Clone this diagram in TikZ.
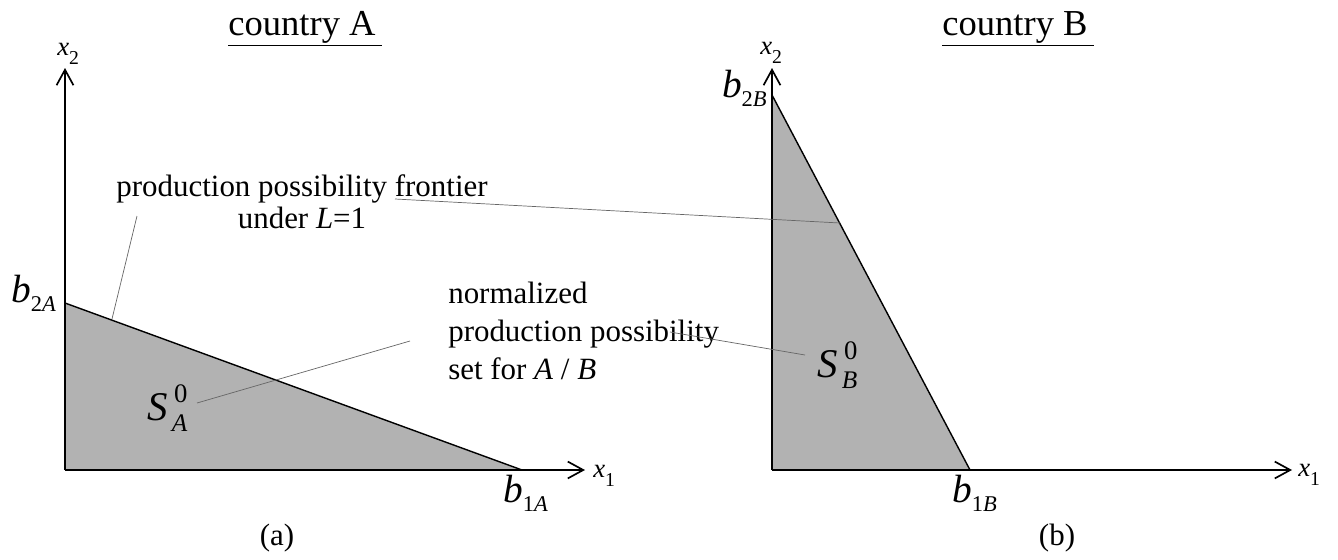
\documentclass[tikz,border=0pt]{standalone}
\usepackage{fontspec}
\setmainfont{Liberation Serif}
\usepackage{tikz}
\usetikzlibrary{arrows.meta}

\newcommand{\idx}[2][14]{\raisebox{-6.5pt}{\fontsize{#1}{#1}\selectfont\upshape #2}}
\newcommand{\setidx}[1]{\kern3pt\makebox[0pt][l]{\kern1.5pt\raisebox{12.5pt}{\fontsize{19}{19}\selectfont 0}}\raisebox{-8.5pt}{\fontsize{18}{18}\selectfont\itshape #1}}

\tikzset{
  axisline/.style={line width=1.2pt, -{Straight Barb[length=11pt,width=12pt]}},
  ppf/.style={line width=1pt},
  ppset/.style={fill=black!30},
  leader/.style={black!60, line width=0.5pt},
  ctitle/.style={font=\fontsize{26}{30}\selectfont, inner sep=0pt},
  ntext/.style={font=\fontsize{22}{23}\selectfont, inner sep=0pt},
  axlab/.style={font=\fontsize{19}{19}\selectfont\itshape, inner sep=0pt},
  blab/.style={font=\fontsize{28}{28}\selectfont, inner sep=0pt},
  setlab/.style={font=\fontsize{29}{29}\selectfont, inner sep=0pt},
  subcap/.style={font=\fontsize{22}{22}\selectfont, inner sep=0pt},
}

\begin{document}
\begin{tikzpicture}[x=0.025cm, y=-0.025cm]
\useasboundingbox (0,0) rectangle (1338,559);

%% Sets S^0 and axes: panel (a), then panel (b)
\foreach \p/\ox/\bx/\by/\ex in {A/65/522/303/585, B/772/970/95/1292}{
  \coordinate (o\p) at (\ox,470);
  \coordinate (b1\p) at (\bx,470);
  \coordinate (b2\p) at (\ox,\by);
  \fill[ppset] (o\p) -- (b2\p) -- (b1\p) -- cycle;
  \draw[ppf] (b2\p) -- (b1\p);
  \draw[axisline] (o\p) -- (\ox,68);
  \draw[axisline] (o\p) -- (\ex,470);
}

%% Titles
\node[ctitle, anchor=base] (titleA) at (305,35) {\underline{country A\,}};
\node[ctitle, anchor=base] (titleB) at (1018,35) {\underline{country B\,}};

%% Axis labels
\node[axlab, anchor=base west] (x2A) at (57,55) {x\idx{2}};
\node[axlab, anchor=base west] (x1A) at (593,477) {x\idx{1}};
\node[axlab, anchor=base west] (x2B) at (760,54) {x\idx{2}};
\node[axlab, anchor=base west] (x1B) at (1298,476) {x\idx{1}};

%% Intercepts
\node[blab, anchor=base west] (lb2A) at (11,302) {\textit{b}\idx[16]{2\textit{A}}};
\node[blab, anchor=base west] (lb1A) at (503,502) {\textit{b}\idx[16]{1\textit{A}}};
\node[blab, anchor=base east] (lb2B) at (767,97) {\textit{b}\idx[16]{2\textit{B}}};
\node[blab, anchor=base west] (lb1B) at (952,502) {\textit{b}\idx[16]{1\textit{B}}};

%% Set names
\node[setlab, anchor=base west] (SA) at (147,420) {\textit{S}\setidx{A}};
\node[setlab, anchor=base west] (SB) at (817,377) {\textit{S}\setidx{B}};

%% Captions
\node[subcap, anchor=base] (capA) at (277,545) {(a)};
\node[subcap, anchor=base] (capB) at (1057,545) {(b)};

%% Notes
\node[ntext, align=center] (ppfTxt) at (302,202)
  {production possibility frontier\\under \textit{L}=1};
\node[ntext, font=\fontsize{22}{27}\selectfont, align=left, anchor=west] (setTxt) at (448,331)
  {normalized\\production possibility\\set for \textit{A} / \textit{B}};

%% Leader lines
\coordinate (ppfTxtA) at (137,216);
\coordinate (ppfTxtB) at (395,199);
\coordinate (ppfA) at (112,319);
\coordinate (ppfB) at (840,223);
\coordinate (setTxtA) at (410,341);
\coordinate (setTxtB) at (670,332);
\coordinate (SAend) at (197,403);
\coordinate (SBend) at (805,355);
\draw[leader] (ppfTxtA) -- (ppfA);
\draw[leader] (ppfTxtB) -- (ppfB);
\draw[leader] (SAend) -- (setTxtA);
\draw[leader] (setTxtB) -- (SBend);

\end{tikzpicture}
\end{document}
